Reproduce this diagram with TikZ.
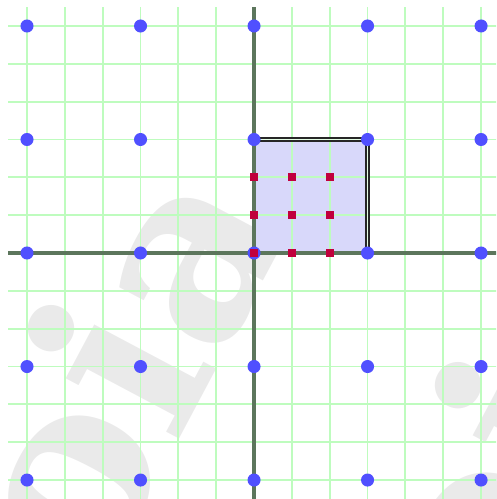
\documentclass[tikz,border=0pt]{standalone}
\usepackage{fontspec}
\usepackage{xcolor}
\usepackage{tikz}
\newfontfamily\wmfont{DejaVu Serif}

\definecolor{gridgreen}{RGB}{190,252,190}
\definecolor{axisgray}{RGB}{92,118,92}
\definecolor{latticeblue}{RGB}{80,80,255}
\definecolor{samplered}{RGB}{192,0,60}
\definecolor{cellfill}{RGB}{216,216,250}
\definecolor{wmgray}{RGB}{234,234,234}

\tikzset{
    gridline/.style={gridgreen, line width=0.45pt},
    axisline/.style={axisgray, line width=1pt},
    lattice/.style={shape=circle, fill=latticeblue, inner sep=0pt, minimum size=0.115cm},
    sample/.style={shape=rectangle, fill=samplered, inner sep=0pt, minimum size=0.07cm},
    wmark/.style={text=wmgray, font=\wmfont\bfseries\fontsize{62}{62}\selectfont, inner sep=0pt}
}

\begin{document}
\begin{tikzpicture}
    \useasboundingbox (-2.238,-2.167) rectangle (2.132,2.229);
    \clip (-2.238,-2.167) rectangle (2.132,2.229);

    % watermark
    \node[wmark, rotate=62, anchor=base] (wm1) at (-0.51,-1.36) {oia};
    \node[wmark, rotate=62, anchor=base] (wm2) at (3.076,-1.86) {oia};

    % unit cell
    \fill[cellfill] (0,0) rectangle (1,1);

    \foreach \k in {-6,...,6} {
        \draw[gridline] (\k/3,-13/6) -- (\k/3,13/6);
        \draw[gridline] (-13/6,\k/3) -- (13/6,\k/3);
    }

    \draw[black!85, line width=0.35pt, double=gridgreen!40, double distance=0.45pt] (0,0) rectangle (1,1);

    \draw[axisline] (-13/6,0) -- (13/6,0);
    \draw[axisline] (0,-13/6) -- (0,13/6);

    \foreach \x in {-2,...,2}
        \foreach \y in {-2,...,2}
            \node[lattice] (p\x\y) at (\x,\y) {};

    \foreach \i in {0,1,2}
        \foreach \j in {0,1,2}
            \node[sample] (s\i\j) at (\i/3,\j/3) {};
\end{tikzpicture}
\end{document}
